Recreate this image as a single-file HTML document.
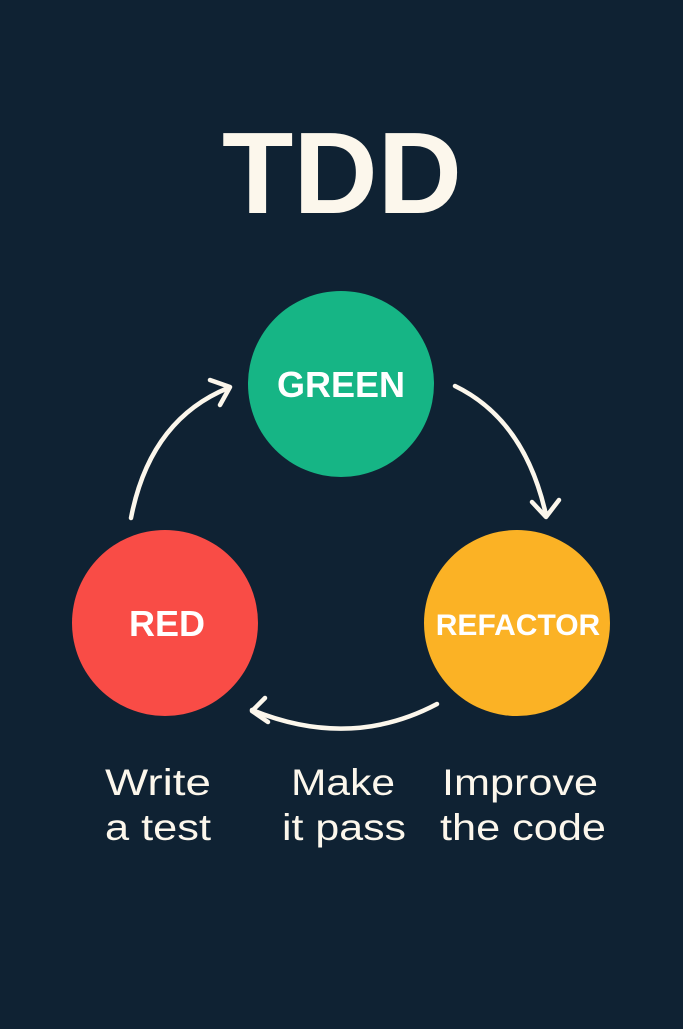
<!DOCTYPE html>
<html><head><style>
html,body{margin:0;padding:0;}
body{width:683px;height:1024px;background:#0f2233;overflow:hidden;}
</style></head><body>
<svg width="683" height="1024" viewBox="0 0 683 1024" xmlns="http://www.w3.org/2000/svg">
<rect width="683" height="1024" fill="#0f2233"/>
<text x="342" y="213" text-anchor="middle" font-family="Liberation Sans, sans-serif" font-weight="bold" font-size="116" fill="#fcf7ec" textLength="240" lengthAdjust="spacingAndGlyphs">TDD</text>
<circle cx="341" cy="384" r="93" fill="#16b585"/>
<circle cx="165" cy="623" r="93" fill="#f94c46"/>
<circle cx="517" cy="623" r="93" fill="#fbb225"/>
<g font-family="Liberation Sans, sans-serif" font-weight="bold" fill="#fff" text-anchor="middle">
<text x="341" y="397" font-size="36">GREEN</text>
<text x="167" y="636" font-size="36">RED</text>
<text x="518" y="635" font-size="30">REFACTOR</text>
</g>
<g fill="none" stroke="#fcf7ec" stroke-width="4.5" stroke-linecap="round" stroke-linejoin="round">
<path d="M131 518 Q150 420 228 388"/>
<path d="M210 380 L230 387 L220 405"/>
<path d="M455 386 Q525 420 546 515"/>
<path d="M532 502 L546 517 L559 500"/>
<path d="M437 704 Q350 750 252 710"/>
<path d="M265 698 L252 711 L268 722"/>
</g>
<g font-family="Liberation Sans, sans-serif" font-size="37" fill="#fcf7ec" text-anchor="middle">
<text x="158" y="795" textLength="106" lengthAdjust="spacingAndGlyphs">Write</text>
<text x="158" y="840" textLength="106" lengthAdjust="spacingAndGlyphs">a test</text>
<text x="343" y="795" textLength="104" lengthAdjust="spacingAndGlyphs">Make</text>
<text x="344" y="840" textLength="124" lengthAdjust="spacingAndGlyphs">it pass</text>
<text x="520" y="795" textLength="156" lengthAdjust="spacingAndGlyphs">Improve</text>
<text x="523" y="840" textLength="166" lengthAdjust="spacingAndGlyphs">the code</text>
</g>
</svg>
</body></html>
